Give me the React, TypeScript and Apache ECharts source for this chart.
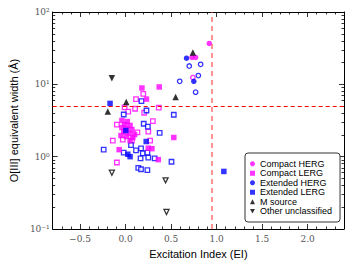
import React, { useEffect, useRef } from "react";
import * as echarts from "echarts";

// ---- data (EI, O[III] EW in Å) ----
const compactHergFilled = [[0.92, 36.7], [0.73, 23.5], [0.77, 23.5]];
const compactHergOpen = [[0.74, 12.4]];
const compactLergFilled = [
  [0.18, 8.9], [0.37, 9.2], [0.23, 6.25], [0.53, 1.84], [-0.07, 1.25], [0.25, 1.31], [0.29, 1.29], [0.36, 0.91],
  [-0.04, 3.16], [0.02, 3.06], [-0.01, 2.78], [0.05, 2.7], [-0.04, 2.53], [0.01, 2.45], [0.07, 2.37], [-0.02, 2.22],
  [0.04, 2.09], [0.1, 2.02], [-0.05, 1.96], [0.01, 1.9], [0.08, 1.84], [0.05, 1.67],
];
const compactLergOpen = [
  [0.195, 7.4], [0.115, 6.25], [0.365, 4.75], [-0.01, 4.8], [0.105, 4.6], [0.03, 4.2], [0.205, 4.05], [0.3, 3.1],
  [-0.095, 2.78], [0.13, 2.17], [-0.14, 1.67], [-0.03, 1.72], [0.07, 1.67], [0.27, 1.67], [-0.095, 0.83], [0.25, 2.22],
];
const extendedHergFilled = [[0.67, 23.0], [0.75, 11.0]];
const extendedHergOpen = [[0.595, 11.0], [0.7, 17.9], [0.825, 18.9], [0.8, 13.2], [0.77, 7.8]];
const extendedLergFilled = [[-0.17, 5.45], [0.003, 2.3], [0.227, 1.62], [0.025, 1.08], [0.05, 1.0], [1.08, 0.625]];
const extendedLergOpen = [
  [0.175, 5.85], [0.23, 4.35], [-0.02, 3.83], [0.53, 3.8], [0.2, 2.85], [0.245, 2.61], [0.375, 2.13], [-0.24, 1.25],
  [0.06, 1.44], [0.115, 1.22], [0.17, 1.3], [-0.02, 1.14], [0.19, 1.11], [0.24, 1.14], [0.165, 0.95], [0.25, 0.97],
  [0.32, 0.95], [0.505, 0.85], [0.14, 0.7], [0.17, 0.67], [0.24, 0.65],
];
const mSource = [[-0.195, 4.2], [0.008, 5.7], [0.55, 6.7], [0.74, 27.5]];
const otherFilled = [[-0.15, 12.1]];
const otherOpen = [[-0.15, 0.6], [0.44, 0.47], [0.45, 0.172]];

const xMajor = [-0.5, 0, 0.5, 1, 1.5, 2];
const xMinor = [-0.7, -0.6, -0.4, -0.3, -0.2, -0.1, 0.1, 0.2, 0.3, 0.4, 0.6, 0.7, 0.8, 0.9, 1.1, 1.2, 1.3, 1.4, 1.6, 1.7, 1.8, 1.9, 2.1, 2.2, 2.3];
const yMajor = [0.1, 1, 10, 100];
const yMinor = [0.2, 0.3, 0.4, 0.5, 0.6, 0.7, 0.8, 0.9, 2, 3, 4, 5, 6, 7, 8, 9, 20, 30, 40, 50, 60, 70, 80, 90];
const yTickLabels = ["10⁻¹", "10⁰", "10¹", "10²"];
const ewThreshold = 5;
const eiThreshold = 0.95;

const legendNames = ["Compact HERG", "Compact LERG", "Extended HERG", "Extended LERG", "M source", "Other unclassified"];

const MAG = "#ff00ff";
const BLUE = "#0000ff";
const DOWN = "path://M0,0L10,0L5,9Z";

export default function App() {
  const ref = useRef<HTMLDivElement>(null);
  useEffect(() => {
    if (!ref.current) return;
    const chart = echarts.init(ref.current, undefined, { renderer: "svg" });
    const serif = "DejaVu Serif";
    const sans = "Liberation Sans";
    const fmtX = (v: number) => (v < 0 ? "−" : "") + Math.abs(v).toFixed(1);
    const fmtY = (v: number) => yTickLabels[Math.round(Math.log10(v)) + 1] ?? "";
    const xBase = { type: "value", min: -0.8, max: 2.4, splitLine: { show: false } };
    const yBase = { type: "log", logBase: 10, min: 0.1, max: 100, splitLine: { show: false } };
    const tick = (vals: number[], len: number) => ({
      show: true, inside: true, length: len, customValues: vals, lineStyle: { color: "#000", width: 0.8 },
    });
    const line = { show: true, onZero: false, lineStyle: { color: "#000", width: 1 } };
    const noLine = { show: false, onZero: false };
    const noLabel = { show: false };

    const sc = (name: string, data: number[][], symbol: string, size: number, fill: string, stroke: string, open: boolean, z = 3) => ({
      name, type: "scatter", data, symbol, symbolSize: size, z,
      xAxisIndex: 0, yAxisIndex: 0,
      itemStyle: open
        ? { color: "#fff", borderColor: stroke, borderWidth: 1.3 }
        : { color: fill, borderColor: fill, borderWidth: 0 },
    });

    chart.setOption({
      animation: false,
      backgroundColor: "#fff",
      grid: { left: 48, right: 8, top: 12, bottom: 35 },
      xAxis: [
        {
          ...xBase, position: "bottom", axisLine: line, axisTick: tick(xMajor, 5),
          axisLabel: { customValues: xMajor, formatter: fmtX, fontFamily: serif, fontSize: 9, color: "#555", margin: 5 },
          name: "Excitation Index (EI)", nameLocation: "middle", nameGap: 19,
          nameTextStyle: { fontFamily: sans, fontSize: 11, color: "#000" },
        },
        { ...xBase, position: "bottom", axisLine: noLine, axisTick: tick(xMinor, 2.5), axisLabel: noLabel },
        { ...xBase, position: "top", axisLine: line, axisTick: tick(xMajor, 5), axisLabel: noLabel },
        { ...xBase, position: "top", axisLine: noLine, axisTick: tick(xMinor, 2.5), axisLabel: noLabel },
      ],
      yAxis: [
        {
          ...yBase, position: "left", axisLine: line, axisTick: tick(yMajor, 5),
          axisLabel: { customValues: yMajor, formatter: fmtY, fontFamily: serif, fontSize: 9, color: "#555", margin: 3 },
          name: "O[III] equivalent width (Å)", nameLocation: "middle", nameGap: 33,
          nameTextStyle: { fontFamily: sans, fontSize: 11, color: "#000" },
        },
        { ...yBase, position: "left", axisLine: noLine, axisTick: tick(yMinor, 2.5), axisLabel: noLabel },
        { ...yBase, position: "right", axisLine: line, axisTick: tick(yMajor, 5), axisLabel: noLabel },
        { ...yBase, position: "right", axisLine: noLine, axisTick: tick(yMinor, 2.5), axisLabel: noLabel },
      ],
      legend: {
        data: legendNames, orient: "vertical", left: 245, top: 153,
        backgroundColor: "#fff", borderColor: "#333", borderWidth: 1, borderRadius: 3,
        padding: [6, 8, 6, 5], itemGap: 0, itemWidth: 5, itemHeight: 5,
        textStyle: { fontFamily: sans, fontSize: 9, lineHeight: 9.5, color: "#000" },
      },
      series: [
        {
          name: "thresholds", type: "scatter", data: [], xAxisIndex: 0, yAxisIndex: 0,
          markLine: {
            silent: true, symbol: "none", label: { show: false }, animation: false,
            data: [
              { yAxis: ewThreshold, lineStyle: { color: "#ff0000", width: 1, type: [4, 3] } },
              { xAxis: eiThreshold, lineStyle: { color: "rgba(255,60,60,0.55)", width: 2, type: [5, 4] } },
            ],
          },
        },
        sc("Compact LERG (open)", compactLergOpen, "rect", 4.5, MAG, MAG, true),
        sc("Extended LERG (open)", extendedLergOpen, "rect", 4.5, BLUE, BLUE, true),
        sc("Compact LERG", compactLergFilled, "rect", 5.5, MAG, MAG, false),
        sc("Extended LERG", extendedLergFilled, "rect", 5.5, BLUE, BLUE, false),
        sc("Extended HERG (open)", extendedHergOpen, "circle", 4.5, BLUE, BLUE, true),
        sc("Compact HERG (open)", compactHergOpen, "circle", 4.5, MAG, MAG, true),
        sc("Extended HERG", extendedHergFilled, "circle", 5.5, BLUE, BLUE, false),
        sc("Compact HERG", compactHergFilled, "circle", 5.5, MAG, MAG, false),
        sc("M source", mSource, "triangle", 6.5, "#000", "#000", false),
        sc("Other unclassified", otherFilled, DOWN, 6.5, "#000", "#000", false),
        sc("Other unclassified (open)", otherOpen, DOWN, 5, "#000", "#000", true),
      ],
    });
    return () => chart.dispose();
  }, []);
  return <div ref={ref} style={{ position: "fixed", left: 0, top: 0, width: 352, height: 264 }} />;
}
